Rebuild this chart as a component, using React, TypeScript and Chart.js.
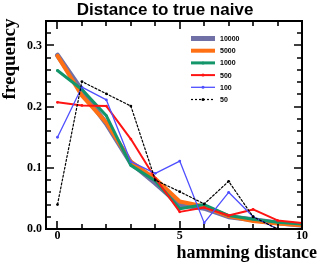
import React, { useEffect, useRef } from "react";
import { Chart, registerables } from "chart.js";

Chart.register(...registerables);

const xValues = [0, 1, 2, 3, 4, 5, 6, 7, 8, 9, 10];
const seriesLabels = ["10000", "5000", "1000", "500", "100", "50"];
const s10000 = [0.284, 0.226, 0.172, 0.108, 0.075, 0.040, 0.034, 0.020, 0.015, 0.010, 0.006];
const s5000 = [0.283, 0.218, 0.174, 0.110, 0.082, 0.045, 0.037, 0.021, 0.013, 0.009, 0.006];
const s1000 = [0.259, 0.228, 0.185, 0.104, 0.079, 0.033, 0.040, 0.022, 0.016, 0.011, 0.008];
const s500 = [0.207, 0.202, 0.201, 0.147, 0.083, 0.028, 0.035, 0.022, 0.032, 0.014, 0.010];
const s100 = [0.150, 0.232, 0.211, 0.110, 0.091, 0.111, 0.010, 0.060, 0.020, 0.000, 0.000];
const s50 = [0.040, 0.241, 0.221, 0.201, 0.080, 0.061, 0.041, 0.078, 0.020, 0.000, 0.000];
const xTickLabels = [0, 5, 10];
const yTickLabels = [0, 0.1, 0.2, 0.3];

const allSeries = [s10000, s5000, s1000, s500, s100, s50];
const colors = ["#7070a6", "#ff7014", "#13966a", "#ff1414", "#4f4fff", "#000000"];
const widths = [5, 4, 3, 2, 1.3, 1.2];

const SERIF = '"Liberation Serif", "Times New Roman", serif';
const SANS = '"Liberation Sans", Arial, sans-serif';

const decorPlugin = {
  id: "decor",
  afterDraw(chart: any) {
    const { ctx, chartArea } = chart;
    const xs = chart.scales.x;
    const ys = chart.scales.y;
    ctx.save();
    // frame
    ctx.strokeStyle = "#000";
    ctx.lineWidth = 2;
    ctx.strokeRect(chartArea.left, chartArea.top, chartArea.right - chartArea.left, chartArea.bottom - chartArea.top);
    // x ticks
    ctx.lineWidth = 1.6;
    for (let v = 0; v <= 10; v++) {
      const px = Math.round(xs.getPixelForValue(v));
      const len = v % 5 === 0 ? 8 : 5;
      ctx.beginPath();
      ctx.moveTo(px, chartArea.bottom);
      ctx.lineTo(px, chartArea.bottom - len);
      ctx.moveTo(px, chartArea.top);
      ctx.lineTo(px, chartArea.top + len);
      ctx.stroke();
    }
    for (let i = 0; i <= 17; i++) {
      const v = i * 0.02;
      const py = Math.round(ys.getPixelForValue(v));
      const len = i % 5 === 0 ? 8 : 5;
      ctx.beginPath();
      ctx.moveTo(chartArea.left, py);
      ctx.lineTo(chartArea.left + len, py);
      ctx.moveTo(chartArea.right, py);
      ctx.lineTo(chartArea.right - len, py);
      ctx.stroke();
    }
    // title
    ctx.fillStyle = "#000";
    ctx.font = `bold 17px ${SANS}`;
    ctx.textAlign = "center";
    ctx.textBaseline = "alphabetic";
    ctx.fillText("Distance to true naive", 165, 15);
    // x label
    ctx.font = `bold 18px ${SERIF}`;
    ctx.textAlign = "right";
    ctx.fillText("hamming distance", 317, 258);
    // y label
    ctx.save();
    ctx.translate(15, 59);
    ctx.rotate(-Math.PI / 2);
    ctx.font = `bold 19px ${SERIF}`;
    ctx.textAlign = "center";
    ctx.fillText("frequency", 0, 0);
    ctx.restore();
    // legend
    chart.data.datasets.forEach((ds: any, i: number) => {
      const y = 38.5 + i * 12.2;
      ctx.strokeStyle = ds.borderColor;
      ctx.lineWidth = ds.borderWidth;
      ctx.setLineDash(ds.borderDash || []);
      ctx.beginPath();
      ctx.moveTo(191, y);
      ctx.lineTo(215, y);
      ctx.stroke();
      ctx.setLineDash([]);
      ctx.fillStyle = ds.borderColor;
      ctx.beginPath();
      ctx.arc(203, y, 1.5, 0, Math.PI * 2);
      ctx.fill();
      ctx.fillStyle = "#000";
      ctx.font = `bold 7px ${SANS}`;
      ctx.textAlign = "left";
      ctx.textBaseline = "middle";
      ctx.fillText(ds.label, 220, y + 0.5);
    });
    ctx.restore();
  },
};

export default function App() {
  const ref = useRef<HTMLCanvasElement>(null);
  useEffect(() => {
    document.body.style.margin = "0";
    const datasets = allSeries.map((s, i) => ({
      label: seriesLabels[i],
      data: s.map((y, j) => ({ x: xValues[j], y })),
      borderColor: colors[i],
      backgroundColor: colors[i],
      borderWidth: widths[i],
      borderDash: i === 5 ? [2, 2] : [],
      borderCapStyle: "round",
      borderJoinStyle: "round",
      pointRadius: 1.4,
      pointBorderWidth: 0,
      pointBackgroundColor: colors[i],
      order: 6 - i,
      tension: 0,
    }));
    const chart = new Chart(ref.current as HTMLCanvasElement, {
      type: "line",
      data: { datasets } as any,
      options: {
        animation: false,
        responsive: false,
        devicePixelRatio: 1,
        layout: { padding: { top: 21, right: 25, left: 0, bottom: 0 } },
        plugins: { legend: { display: false }, title: { display: false }, tooltip: { enabled: false } },
        scales: {
          x: {
            type: "linear",
            min: -0.47,
            max: 10,
            grid: { display: false, drawTicks: false },
            border: { display: false },
            afterFit: (s: any) => { s.height = 40; },
            afterBuildTicks: (s: any) => { s.ticks = xTickLabels.map((v) => ({ value: v })); },
            ticks: {
              padding: 0,
              color: "#000",
              font: { family: SERIF, weight: "bold", size: 12 },
              callback: (v: any) => String(v),
            },
          },
          y: {
            type: "linear",
            min: 0,
            max: 0.34,
            grid: { display: false, drawTicks: false },
            border: { display: false },
            afterFit: (s: any) => { s.width = 46; },
            afterBuildTicks: (s: any) => { s.ticks = yTickLabels.map((v) => ({ value: v })); },
            ticks: {
              padding: 4,
              color: "#000",
              font: { family: SERIF, weight: "bold", size: 12 },
              callback: (v: any) => Number(v).toFixed(1),
            },
          },
        },
      } as any,
      plugins: [decorPlugin],
    });
    return () => chart.destroy();
  }, []);
  return (
    <div style={{ width: 327, height: 269 }}>
      <canvas ref={ref} width={327} height={269} />
    </div>
  );
}
